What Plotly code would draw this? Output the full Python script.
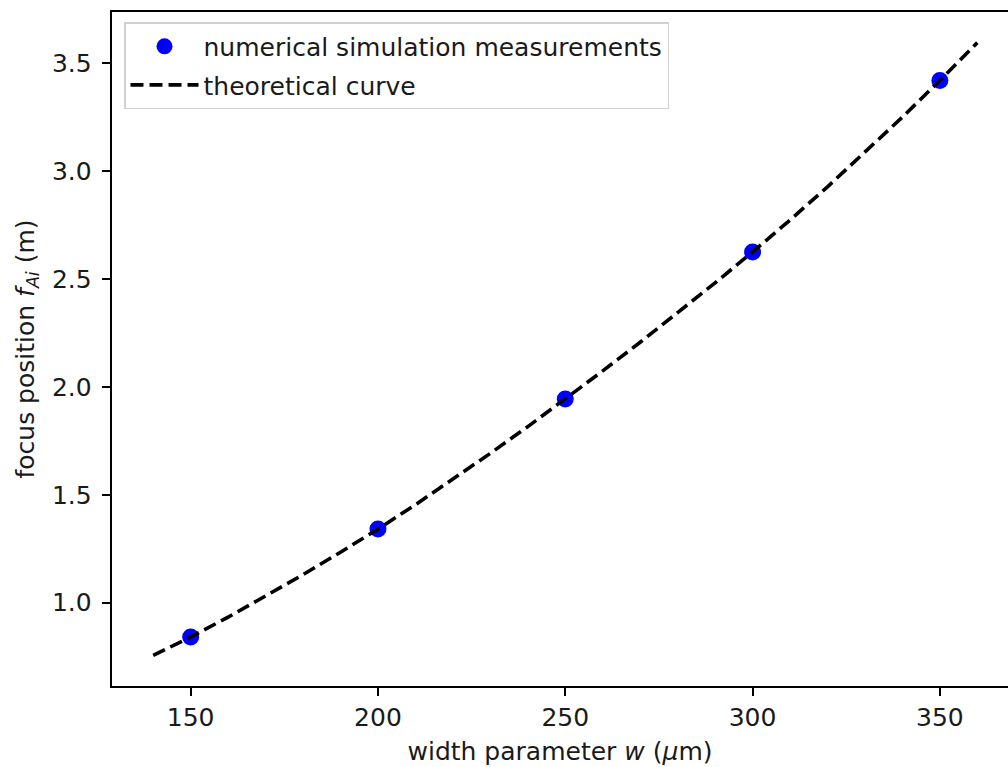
import plotly.graph_objects as go

# Simulated focus positions at each width parameter
w_sim = [150, 200, 250, 300, 350]
f_sim = [0.841, 1.341, 1.944, 2.625, 3.420]

# Theoretical focus curve sampled every 10 µm
w_theory = [140, 150, 160, 170, 180, 190, 200, 210, 220, 230, 240, 250,
            260, 270, 280, 290, 300, 310, 320, 330, 340, 350, 360]
f_theory = [0.756, 0.841, 0.933, 1.030, 1.130, 1.234, 1.341, 1.454, 1.571,
            1.692, 1.816, 1.944, 2.074, 2.207, 2.343, 2.482, 2.625, 2.773,
            2.927, 3.086, 3.250, 3.420, 3.595]

x_ticks = [150, 200, 250, 300, 350]
y_ticks = [1.0, 1.5, 2.0, 2.5, 3.0, 3.5]

FONT = "DejaVu Sans"
TXT = "#1a1a1a"
SIZE = 25

fig = go.Figure()
fig.add_trace(go.Scatter(
    x=w_sim, y=f_sim, mode="markers",
    name="numerical simulation measurements", legendgroup="sim",
    marker=dict(color="#0000ff", size=17, line=dict(width=0)),
))
fig.add_trace(go.Scatter(
    x=w_theory, y=f_theory, mode="lines",
    name="theoretical curve", legendgroup="theory",
    line=dict(color="black", width=3.6, dash="13px,6px"),
))

# Data limits with 5% padding, view cut at the right edge of the page
x_lo = 140 - 0.05 * 220
y_lo = 0.756 - 0.05 * (3.595 - 0.756)
y_hi = 3.595 + 0.05 * (3.595 - 0.756)

fig.update_layout(
    width=1008, height=767,
    margin=dict(l=112, r=0, t=12, b=81),
    paper_bgcolor="white", plot_bgcolor="white",
    font=dict(family=FONT, size=SIZE, color=TXT),
    showlegend=True,
    legend=dict(
        x=0.0134, y=0.985, xanchor="left", yanchor="top",
        bgcolor="rgba(255,255,255,0.8)", bordercolor="#d0d0d0", borderwidth=1.5,
        font=dict(family=FONT, size=SIZE, color=TXT),
        itemwidth=68, tracegroupgap=3,
    ),
    xaxis=dict(
        range=[x_lo, x_lo + 896 / 3.746],
        tickvals=x_ticks, ticktext=[str(v) for v in x_ticks],
        ticks="outside", ticklen=8.4, tickwidth=1.9, tickcolor="black",
        showline=True, linecolor="black", linewidth=1.9, mirror=True,
        showgrid=False, zeroline=False,
        tickfont=dict(family=FONT, size=SIZE, color=TXT),
        title=dict(text="width parameter <i>w</i> (<i>μ</i>m)",
                   font=dict(family=FONT, size=SIZE, color=TXT), standoff=11),
    ),
    yaxis=dict(
        range=[y_lo, y_hi],
        tickvals=y_ticks, ticktext=[f"{v:.1f}" for v in y_ticks],
        ticks="outside", ticklen=8.4, tickwidth=1.9, tickcolor="black",
        showline=True, linecolor="black", linewidth=1.9, mirror=False,
        showgrid=False, zeroline=False, ticklabelstandoff=5,
        tickfont=dict(family=FONT, size=SIZE, color=TXT),
        title=dict(text="focus position <i>f</i><sub><i>Ai</i></sub> (m)",
                   font=dict(family=FONT, size=SIZE, color=TXT), standoff=10),
    ),
)

fig.write_html("out.html")
